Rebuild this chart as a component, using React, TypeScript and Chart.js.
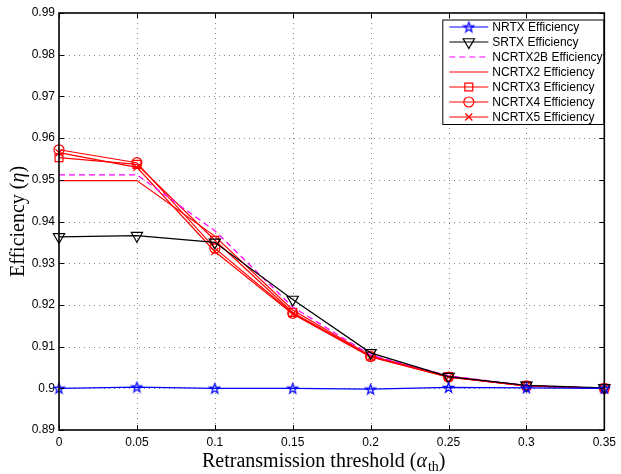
import React, { useEffect, useRef } from 'react';
import { Chart, registerables } from 'chart.js';
import { drawPoint } from 'chart.js/helpers';

Chart.register(...registerables);

// ---- data ----
const thresholds = [0, 0.05, 0.1, 0.15, 0.2, 0.25, 0.3, 0.35];
const nrtx = [0.9, 0.9003, 0.9, 0.9, 0.8998, 0.9002, 0.9001, 0.9];
const srtx = [0.9363, 0.9366, 0.935, 0.9213, 0.9085, 0.9028, 0.9007, 0.9001];
const ncrtx2b = [0.9512, 0.9512, 0.9378, 0.9195, 0.908, 0.903, 0.9007, 0.9];
const ncrtx2 = [0.9498, 0.9498, 0.9365, 0.9188, 0.9078, 0.9028, 0.9006, 0.9];
const ncrtx3 = [0.9553, 0.9537, 0.9355, 0.9182, 0.9077, 0.9028, 0.9006, 0.9];
const ncrtx4 = [0.9572, 0.9541, 0.9336, 0.918, 0.9076, 0.9027, 0.9006, 0.9];
const ncrtx5 = [0.9565, 0.953, 0.9328, 0.9178, 0.9075, 0.9027, 0.9006, 0.9];
const seriesNames = [
  'NRTX Efficiency',
  'SRTX Efficiency',
  'NCRTX2B Efficiency',
  'NCRTX2 Efficiency',
  'NCRTX3 Efficiency',
  'NCRTX4 Efficiency',
  'NCRTX5 Efficiency',
];
const seriesValues = [nrtx, srtx, ncrtx2b, ncrtx2, ncrtx3, ncrtx4, ncrtx5];
const yMin = 0.89;
const yMax = 0.99;
const yStep = 0.01;
const xMin = 0;
const xMax = 0.35;
const xStep = 0.05;

function makeStar(color: string): HTMLCanvasElement {
  const c = document.createElement('canvas');
  c.width = 13;
  c.height = 13;
  const g = c.getContext('2d')!;
  g.strokeStyle = color;
  g.lineWidth = 1.2;
  g.beginPath();
  for (let i = 0; i < 10; i++) {
    const r = i % 2 === 0 ? 5.2 : 2.1;
    const a = -Math.PI / 2 + (i * Math.PI) / 5;
    const px = 6.5 + r * Math.cos(a);
    const py = 7 + r * Math.sin(a);
    if (i === 0) g.moveTo(px, py);
    else g.lineTo(px, py);
  }
  g.closePath();
  g.stroke();
  return c;
}

const fmt = (v: number) => String(parseFloat(Number(v).toFixed(2)));

export default function App() {
  const ref = useRef<HTMLCanvasElement>(null);

  useEffect(() => {
    const star = makeStar('#0000ff');
    const styles: any[] = [
      { color: '#0000ff', dash: [], ps: star, r: 6, rot: 0 },
      { color: '#000000', dash: [], ps: 'triangle', r: 6.5, rot: 180 },
      { color: '#ff00ff', dash: [6, 4], ps: false, r: 0, rot: 0 },
      { color: '#ff0000', dash: [], ps: false, r: 0, rot: 0 },
      { color: '#ff0000', dash: [], ps: 'rect', r: 5.6, rot: 0 },
      { color: '#ff0000', dash: [], ps: 'circle', r: 5, rot: 0 },
      { color: '#ff0000', dash: [], ps: 'crossRot', r: 5, rot: 0 },
    ];

    const datasets = seriesValues.map((vals, i) => ({
      label: seriesNames[i],
      data: thresholds.map((x, j) => ({ x, y: vals[j] })),
      borderColor: styles[i].color,
      backgroundColor: 'rgba(0,0,0,0)',
      borderWidth: 1.2,
      borderDash: styles[i].dash,
      pointStyle: styles[i].ps === false ? 'circle' : styles[i].ps,
      pointRadius: styles[i].r,
      pointRotation: styles[i].rot,
      pointBorderColor: styles[i].color,
      pointBackgroundColor: 'rgba(0,0,0,0)',
      pointBorderWidth: 1.2,
      pointHoverRadius: styles[i].r,
      tension: 0,
      fill: false,
      clip: false as any,
    }));

    const framePlugin = {
      id: 'matlabFrame',
      beforeDatasetsDraw(chart: any) {
        const { ctx, chartArea, scales } = chart;
        const { left, right, top, bottom } = chartArea;
        ctx.save();
        ctx.strokeStyle = '#888888';
        ctx.lineWidth = 1;
        ctx.setLineDash([1, 4]);
        scales.x.ticks.forEach((t: any) => {
          const px = Math.round(scales.x.getPixelForValue(t.value)) + 0.5;
          if (px > left + 2 && px < right - 2) {
            ctx.beginPath();
            ctx.moveTo(px, top);
            ctx.lineTo(px, bottom);
            ctx.stroke();
          }
        });
        scales.y.ticks.forEach((t: any) => {
          const py = Math.round(scales.y.getPixelForValue(t.value)) + 0.5;
          if (py > top + 2 && py < bottom - 2) {
            ctx.beginPath();
            ctx.moveTo(left, py);
            ctx.lineTo(right, py);
            ctx.stroke();
          }
        });
        ctx.restore();
      },
      afterDatasetsDraw(chart: any) {
        const { ctx, chartArea, scales } = chart;
        const { left, right, top, bottom } = chartArea;
        ctx.save();
        ctx.setLineDash([]);
        ctx.strokeStyle = '#000000';
        ctx.lineWidth = 1;
        const tl = 5;
        scales.x.ticks.forEach((t: any) => {
          const px = Math.round(scales.x.getPixelForValue(t.value)) + 0.5;
          ctx.beginPath();
          ctx.moveTo(px, bottom);
          ctx.lineTo(px, bottom - tl);
          ctx.moveTo(px, top);
          ctx.lineTo(px, top + tl);
          ctx.stroke();
        });
        scales.y.ticks.forEach((t: any) => {
          const py = Math.round(scales.y.getPixelForValue(t.value)) + 0.5;
          ctx.beginPath();
          ctx.moveTo(left, py);
          ctx.lineTo(left + tl, py);
          ctx.moveTo(right, py);
          ctx.lineTo(right - tl, py);
          ctx.stroke();
        });
        ctx.lineWidth = 1.6;
        ctx.strokeRect(left, top, right - left, bottom - top);
        ctx.restore();
      },
      afterDraw(chart: any) {
        const { ctx, chartArea } = chart;
        const { left, right, top, bottom } = chartArea;
        ctx.save();
        // ---- legend ----
        const bx = right - 162;
        const by = top + 6.5;
        const bw = 161;
        const bh = 104.5;
        ctx.fillStyle = '#ffffff';
        ctx.fillRect(bx, by, bw, bh);
        ctx.strokeStyle = '#000000';
        ctx.lineWidth = 1;
        ctx.strokeRect(bx + 0.5, by + 0.5, bw, bh);
        ctx.font = '12px "Liberation Sans", Arial, sans-serif';
        ctx.textBaseline = 'middle';
        ctx.textAlign = 'left';
        seriesNames.forEach((name, i) => {
          const st = styles[i];
          const ry = by + 7 + i * 15;
          const x1 = bx + 7;
          const x2 = bx + 46;
          ctx.save();
          ctx.strokeStyle = st.color;
          ctx.lineWidth = 1.2;
          ctx.setLineDash(st.dash);
          ctx.beginPath();
          ctx.moveTo(x1, ry + 0.5);
          ctx.lineTo(x2, ry + 0.5);
          ctx.stroke();
          ctx.setLineDash([]);
          if (st.ps !== false) {
            ctx.fillStyle = 'rgba(0,0,0,0)';
            drawPoint(ctx, { pointStyle: st.ps, rotation: st.rot, radius: st.r, borderWidth: 1.2 } as any, (x1 + x2) / 2, ry + 0.5);
          }
          ctx.restore();
          ctx.fillStyle = '#000000';
          ctx.fillText(name, bx + 50, ry + 1);
        });

        // ---- x title ----
        const serif = '"Liberation Serif", "Times New Roman", serif';
        ctx.fillStyle = '#000000';
        ctx.textBaseline = 'alphabetic';
        ctx.textAlign = 'left';
        const xb = bottom + 36.5;
        let cx = left + 143;
        const parts: [string, string, number][] = [
          ['Retransmission threshold (', `20px ${serif}`, 0],
          ['α', `italic 20px ${serif}`, 0],
          ['th', `14px ${serif}`, 4],
          [')', `20px ${serif}`, 0],
        ];
        parts.forEach(([s, f, dy]) => {
          ctx.font = f;
          ctx.fillText(s, cx, xb + dy);
          cx += ctx.measureText(s).width + (s === 'α' ? 1 : 0);
        });

        // ---- y title ----
        const yparts: [string, string][] = [
          ['Efficiency (', `20px ${serif}`],
          ['η', `italic 20px ${serif}`],
          [')', `20px ${serif}`],
        ];
        let total = 0;
        yparts.forEach(([s, f]) => {
          ctx.font = f;
          total += ctx.measureText(s).width;
        });
        ctx.translate(24, (top + bottom) / 2);
        ctx.rotate(-Math.PI / 2);
        let cy = -total / 2;
        yparts.forEach(([s, f]) => {
          ctx.font = f;
          ctx.fillText(s, cy, 0);
          cy += ctx.measureText(s).width;
        });
        ctx.restore();
      },
    };

    const tickFont = { family: '"Liberation Sans", Arial, sans-serif', size: 12 };
    const chart = new Chart(ref.current!, {
      type: 'line',
      data: { datasets: datasets as any },
      options: {
        animation: false,
        responsive: false,
        layout: { padding: { left: 0, top: 13, right: 12, bottom: 0 } },
        plugins: {
          legend: { display: false },
          tooltip: { enabled: false },
          title: { display: false },
        },
        scales: {
          x: {
            type: 'linear',
            min: xMin,
            max: xMax,
            grid: { display: false, drawTicks: false },
            border: { display: false },
            ticks: {
              stepSize: xStep,
              autoSkip: false,
              maxRotation: 0,
              padding: 5,
              color: '#000000',
              font: tickFont,
              callback: (v: any) => fmt(v),
            },
            afterFit: (s: any) => {
              s.height = 44;
            },
          },
          y: {
            type: 'linear',
            min: yMin,
            max: yMax,
            grid: { display: false, drawTicks: false },
            border: { display: false },
            ticks: {
              stepSize: yStep,
              autoSkip: false,
              padding: 4,
              color: '#000000',
              font: tickFont,
              callback: (v: any) => fmt(v),
            },
            afterFit: (s: any) => {
              s.width = 59;
            },
          },
        },
      },
      plugins: [framePlugin],
    });
    return () => chart.destroy();
  }, []);

  return (
    <div style={{ position: 'fixed', left: 0, top: 0, width: 621, height: 474, background: '#ffffff' }}>
      <canvas ref={ref} width={621} height={474} style={{ display: 'block' }} />
    </div>
  );
}
